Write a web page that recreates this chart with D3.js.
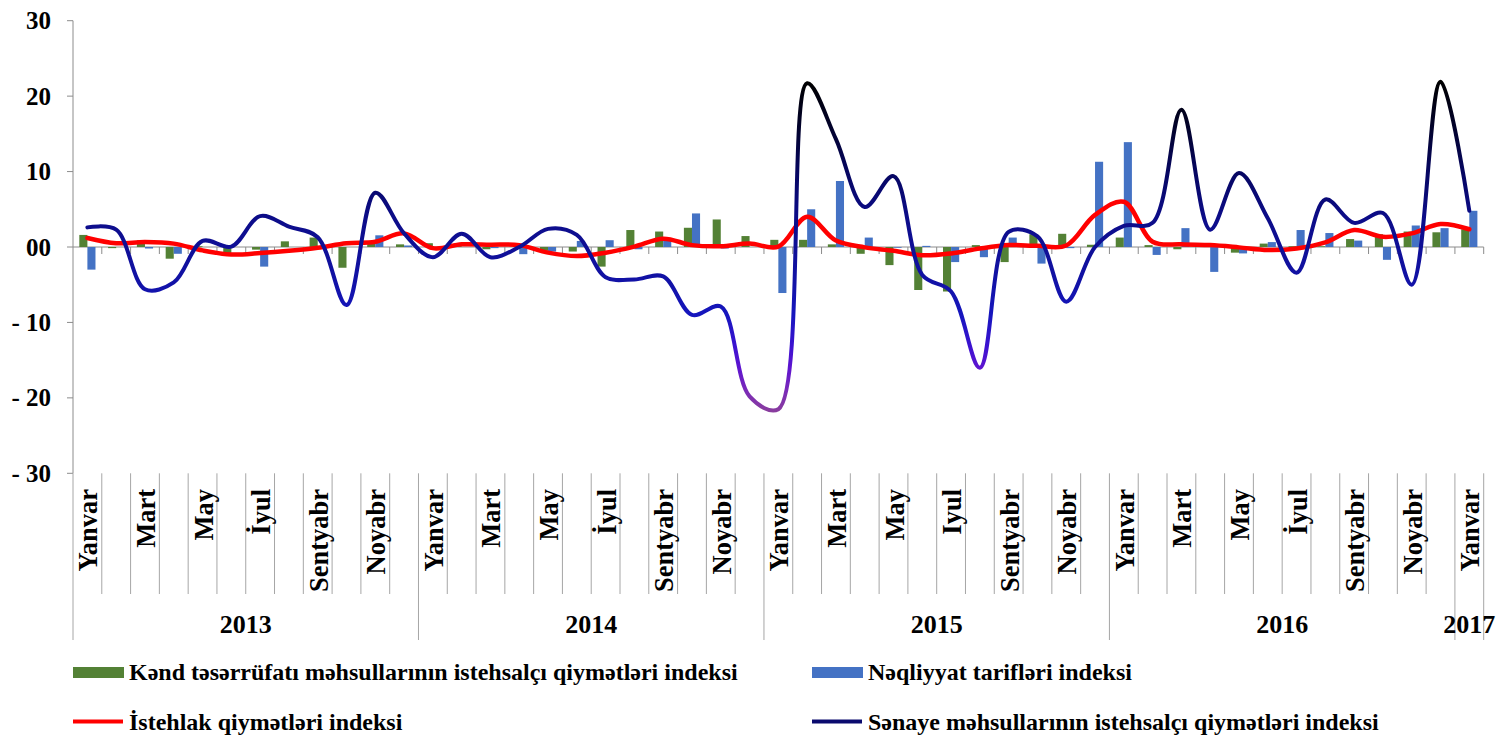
<!DOCTYPE html>
<html>
<head>
<meta charset="utf-8">
<script src="https://cdn.jsdelivr.net/npm/d3@7/dist/d3.min.js"></script>
<style>
  body { margin: 0; background: #fff; }
  text { font-family: "Liberation Serif", "Times New Roman", serif; font-weight: bold; fill: #000; }
</style>
</head>
<body>
<svg id="chart" width="1507" height="738"></svg>
<script>
// month labels, Jan 2013 .. Jan 2017 (only every 2nd one is printed)
var monthLabels = [
  'Yanvar','Fevral','Mart','Aprel','May','İyun','İyul','Avqust','Sentyabr','Oktyabr','Noyabr','Dekabr',
  'Yanvar','Fevral','Mart','Aprel','May','İyun','İyul','Avqust','Sentyabr','Oktyabr','Noyabr','Dekabr',
  'Yanvar','Fevral','Mart','Aprel','May','İyun','Iyul','Avqust','Sentyabr','Oktyabr','Noyabr','Dekabr',
  'Yanvar','Fevral','Mart','Aprel','May','İyun','İyul','Avqust','Sentyabr','Oktyabr','Noyabr','Dekabr',
  'Yanvar'
];
var yearLabels = ['2013', '2014', '2015', '2016', '2017'];
var yearLengths = [12, 12, 12, 12, 1];

var seriesNames = [
  'Kənd təsərrüfatı məhsullarının istehsalçı qiymətləri indeksi',
  'Nəqliyyat tarifləri indeksi',
  'İstehlak qiymətləri indeksi',
  'Sənaye məhsullarının istehsalçı qiymətləri indeksi'
];

var kendValues = [
  1.6, -0.15, 0.9, -1.55, 0.1, -0.85, -0.35, 0.75, 1.25, -2.75, 0.5, 0.35,
  0.5, 0.1, -0.3, 0.0, -0.5, -0.6, -2.6, 2.25, 2.05, 2.55, 3.65, 1.45,
  0.95, 0.95, 0.35, -0.9, -2.4, -5.7, -5.9, 0.25, -2.0, 1.7, 1.75, 0.3,
  1.25, 0.25, -0.3, 0.0, -0.75, 0.45, 0.1, 0.1, 1.05, 1.7, 2.05, 1.95,
  2.35
];
var neqliyyatValues = [
  -3.0, 0.0, -0.2, -0.9, 0.0, 0.0, -2.6, 0.0, -0.2, 0.0, 1.55, 0.2,
  0.0, 0.0, -0.15, -0.95, -0.6, 0.8, 0.9, -0.3, 0.8, 4.45, -0.2, 0.0,
  -6.1, 5.0, 8.75, 1.25, -0.1, 0.15, -2.0, -1.35, 1.25, -2.2, -0.15, 11.3,
  13.9, -1.05, 2.5, -3.3, -0.85, 0.65, 2.25, 1.85, 0.85, -1.7, 2.85, 2.5,
  4.8
];
var istehlakValues = [
  1.2, 0.5, 0.65, 0.45, -0.45, -1.0, -0.8, -0.5, -0.1, 0.5, 0.7, 1.8,
  -0.15, 0.35, 0.3, 0.25, -0.75, -1.2, -0.75, 0.05, 1.1, 0.25, 0.1, 0.45,
  0.05, 4.0, 0.85, -0.05, -0.5, -1.1, -0.85, -0.2, 0.25, 0.15, 0.2, 4.25,
  6.0, 0.7, 0.35, 0.25, -0.05, -0.4, -0.2, 0.6, 2.25, 1.35, 1.8, 3.05,
  2.35
];
var senayeValues = [
  2.6, 2.3, -5.6, -4.7, 0.8, 0.05, 4.1, 2.7, 1.3, -7.7, 7.2, 1.8,
  -1.35, 1.75, -1.35, 0.0, 2.4, 1.6, -4.0, -4.3, -3.9, -9.0, -7.9, -19.8,
  -21.5, 21.7, 14.3, 5.3, 9.4, -3.7, -5.9, -16.0, 2.0, 1.4, -7.25, 0.0,
  2.8, 3.2, 18.2, 2.3, 9.8, 3.8, -3.4, 6.3, 3.2, 4.5, -5.0, 21.9,
  4.8
];

var yTickValues = [-30, -20, -10, 0, 10, 20, 30];
var yTickLabels = ['- 30', '- 20', '- 10', '00', '10', '20', '30'];

var colors = { kend: '#538135', neqliyyat: '#4472c4', istehlak: '#ff0000', senaye: '#0a0a6e' };

var svg = d3.select('#chart');

var plot = { left: 73, right: 1483.7, top: 20.7, bottom: 473.3 };

var x = d3.scaleBand()
  .domain(d3.range(monthLabels.length))
  .range([plot.left, plot.right])
  .padding(0);

var y = d3.scaleLinear()
  .domain([-30, 30])
  .range([plot.bottom, plot.top]);

// two bars side by side inside each month
var xSub = d3.scaleBand()
  .domain(['kend', 'neqliyyat'])
  .range([0, x.bandwidth()])
  .paddingInner(0)
  .paddingOuter(0.78);

var axisColor = '#8c8c8c';

// y axis
var yAxis = svg.append('g').attr('transform', 'translate(' + plot.left + ',0)');
yAxis.append('line')
  .attr('x1', 0).attr('x2', 0)
  .attr('y1', y(30)).attr('y2', y(-30))
  .attr('stroke', axisColor).attr('stroke-width', 1);
yAxis.selectAll('line.tick')
  .data(yTickValues)
  .enter().append('line')
  .attr('class', 'tick')
  .attr('x1', -6).attr('x2', 0)
  .attr('y1', function(d) { return y(d); })
  .attr('y2', function(d) { return y(d); })
  .attr('stroke', axisColor);
yAxis.selectAll('text')
  .data(yTickValues)
  .enter().append('text')
  .attr('x', -22)
  .attr('y', function(d) { return y(d); })
  .attr('dy', '0.34em')
  .attr('text-anchor', 'end')
  .style('font-size', '25px')
  .text(function(d, i) { return yTickLabels[i]; });

// zero line with ticks between months
var boundaries = d3.range(monthLabels.length + 1).map(function(i) {
  return i < monthLabels.length ? x(i) : x(i - 1) + x.bandwidth();
});

svg.append('line')
  .attr('x1', plot.left).attr('x2', plot.right)
  .attr('y1', y(0)).attr('y2', y(0))
  .attr('stroke', axisColor);
svg.selectAll('line.zero-tick')
  .data(boundaries.slice(1))
  .enter().append('line')
  .attr('class', 'zero-tick')
  .attr('x1', function(d) { return d; }).attr('x2', function(d) { return d; })
  .attr('y1', y(0)).attr('y2', y(0) + 7)
  .attr('stroke', axisColor);

// bars
var bars = svg.append('g');
[['kend', kendValues], ['neqliyyat', neqliyyatValues]].forEach(function(s) {
  bars.selectAll('rect.' + s[0])
    .data(s[1])
    .enter().append('rect')
    .attr('class', s[0])
    .attr('x', function(d, i) { return x(i) + xSub(s[0]); })
    .attr('width', xSub.bandwidth())
    .attr('y', function(d) { return y(Math.max(0, d)); })
    .attr('height', function(d) { return Math.abs(y(d) - y(0)); })
    .attr('fill', colors[s[0]]);
});

// gradient for the industry line: black at the top, navy round zero, purple at the bottom
var grad = svg.append('defs').append('linearGradient')
  .attr('id', 'senayeGrad')
  .attr('gradientUnits', 'userSpaceOnUse')
  .attr('x1', 0).attr('x2', 0)
  .attr('y1', y(22)).attr('y2', y(-22));
var gradStops = [[22, '#000000'], [16, '#02022a'], [10, '#060660'], [4, '#0c0c88'], [0, '#0f0f96'],
  [-5, '#1212a8'], [-9, '#1616be'], [-13, '#3a12d0'], [-16, '#5e14d0'], [-19, '#7a2ab8'], [-22, '#8a3e9c']];
grad.selectAll('stop')
  .data(gradStops)
  .enter().append('stop')
  .attr('offset', function(d) { return (y(d[0]) - y(22)) / (y(-22) - y(22)); })
  .attr('stop-color', function(d) { return d[1]; });

// Excel-like smoothing: centripetal catmull-rom keeps the big jumps from overshooting
var line = d3.line()
  .x(function(d, i) { return x(i) + x.bandwidth() / 2; })
  .y(function(d) { return y(d); })
  .curve(d3.curveCatmullRom.alpha(0.5));

svg.append('path')
  .datum(istehlakValues)
  .attr('d', line)
  .attr('fill', 'none')
  .attr('stroke', colors.istehlak)
  .attr('stroke-width', 4.5)
  .attr('stroke-linecap', 'round');

svg.append('path')
  .datum(senayeValues)
  .attr('d', line)
  .attr('fill', 'none')
  .attr('stroke', 'url(#senayeGrad)')
  .attr('stroke-width', 4)
  .attr('stroke-linecap', 'round');

// category area below the plot
var sepColor = '#a6a6a6';
var yearStarts = [0];
yearLengths.forEach(function(n, i) { yearStarts.push(yearStarts[i] + n); });

svg.selectAll('line.month-sep')
  .data(boundaries)
  .enter().append('line')
  .attr('class', 'month-sep')
  .attr('x1', function(d) { return d; }).attr('x2', function(d) { return d; })
  .attr('y1', plot.bottom)
  .attr('y2', function(d, i) { return yearStarts.indexOf(i) >= 0 ? 640 : 594; })
  .attr('stroke', sepColor);

var shownMonths = monthLabels
  .map(function(d, i) { return { label: d, index: i }; })
  .filter(function(d) { return d.index % 2 === 0; });

svg.selectAll('text.month')
  .data(shownMonths)
  .enter().append('text')
  .attr('class', 'month')
  .attr('transform', function(d) {
    return 'translate(' + (x(d.index) + x.bandwidth() / 2 + 10) + ',489) rotate(-90)';
  })
  .attr('text-anchor', 'end')
  .style('font-size', '26.5px')
  .text(function(d) { return d.label; });

svg.selectAll('text.year')
  .data(yearLabels)
  .enter().append('text')
  .attr('class', 'year')
  .attr('x', function(d, i) {
    var a = boundaries[yearStarts[i]], b = boundaries[yearStarts[i + 1]];
    return (a + b) / 2;
  })
  .attr('y', 633)
  .attr('text-anchor', 'middle')
  .style('font-size', '26px')
  .text(function(d) { return d; });

// legend
var legendItems = [
  { name: seriesNames[0], kind: 'rect', color: colors.kend, x: 73, y: 680 },
  { name: seriesNames[1], kind: 'rect', color: colors.neqliyyat, x: 812, y: 680 },
  { name: seriesNames[2], kind: 'line', color: colors.istehlak, x: 73, y: 730 },
  { name: seriesNames[3], kind: 'line', color: colors.senaye, x: 812, y: 730 }
];
var legend = svg.append('g').selectAll('g')
  .data(legendItems)
  .enter().append('g')
  .attr('transform', function(d) { return 'translate(' + d.x + ',' + d.y + ')'; });

legend.filter(function(d) { return d.kind === 'rect'; })
  .append('rect')
  .attr('x', 0).attr('y', -13).attr('width', 51).attr('height', 11)
  .attr('fill', function(d) { return d.color; });
legend.filter(function(d) { return d.kind === 'line'; })
  .append('line')
  .attr('x1', 0).attr('x2', 50).attr('y1', -8.5).attr('y2', -8.5)
  .attr('stroke', function(d) { return d.color; })
  .attr('stroke-width', 4);
legend.append('text')
  .attr('x', 56)
  .attr('y', 0)
  .style('font-size', '24px')
  .text(function(d) { return d.name; });
</script>
</body>
</html>
